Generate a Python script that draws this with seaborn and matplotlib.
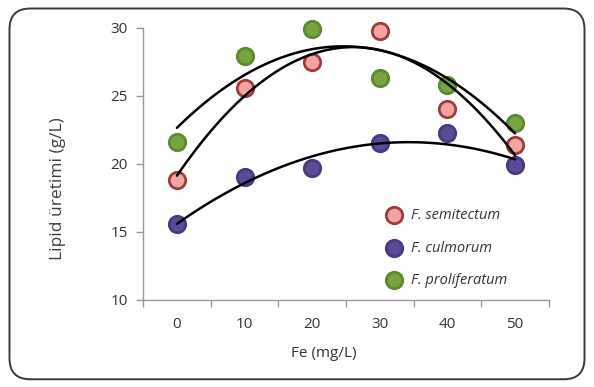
import matplotlib.pyplot as plt
import numpy as np
import pandas as pd
import seaborn as sns
from matplotlib.patches import FancyBboxPatch

fe = [0, 10, 20, 30, 40, 50]
semitectum = [18.8, 25.6, 27.5, 29.8, 24.0, 21.4]
culmorum = [15.6, 19.0, 19.7, 21.5, 22.3, 19.9]
proliferatum = [21.6, 27.9, 29.9, 26.3, 25.8, 23.0]

series = [
    ("F. semitectum", semitectum, "#F2A5A0", "#9C3D3B"),
    ("F. culmorum", culmorum, "#5A4A98", "#473a80"),
    ("F. proliferatum", proliferatum, "#78A33E", "#5C8A2E"),
]

sns.set_style("white")
plt.rcParams['font.family'] = ['Open Sans', 'DejaVu Sans']

fig = plt.figure(figsize=(5.94, 3.87), dpi=100)
ax = fig.add_axes([0.241, 0.225, 0.683, 0.703])

# rounded chart border
border = FancyBboxPatch((0.016, 0.02), 0.968, 0.958, boxstyle="round,pad=0,rounding_size=0.035",
                        transform=fig.transFigure, fill=False, edgecolor="#3a3a3a", linewidth=1.4,
                        mutation_aspect=594 / 387)
fig.patches.append(border)

for name, vals, fc, ec in series:
    df = pd.DataFrame({"fe": fe, "val": vals})
    sns.scatterplot(data=df, x="fe", y="val", ax=ax, color=fc, edgecolor=ec, linewidth=2,
                    s=140, label=name, zorder=2, clip_on=False)
    sns.regplot(data=df, x="fe", y="val", ax=ax, order=2, ci=None, scatter=False,
                line_kws={"color": "black", "lw": 1.8, "zorder": 3})

ax.set_xlim(-5, 55)
ax.set_ylim(10, 30)
ax.set_yticks([10, 15, 20, 25, 30])
ax.set_xticks(fe)
ax.set_xticks(np.arange(-5, 60, 10), minor=True)
ax.tick_params(axis="x", which="major", length=0, pad=12, labelsize=11, labelcolor="#333333")
ax.tick_params(axis="x", which="minor", length=5, width=1, color="#999999", direction="out", bottom=True)
ax.tick_params(axis="y", length=5, width=1, color="#999999", direction="out", left=True,
               pad=6, labelsize=11, labelcolor="#333333")

sns.despine(ax=ax)
for sp in ["left", "bottom"]:
    ax.spines[sp].set_color("#999999")
    ax.spines[sp].set_linewidth(1)

ax.set_xlabel("Fe (mg/L)", fontsize=11, color="#333333")
ax.xaxis.set_label_coords(0.446, -0.17)
ax.set_ylabel("Lipid üretimi (g/L)", fontsize=12.5, color="#404040")
ax.yaxis.set_label_coords(-0.19, 0.41)

ax.legend(loc="upper left", bbox_to_anchor=(0.55, 0.385), frameon=False,
          prop={"style": "italic", "size": 10.5}, labelspacing=1.2, handletextpad=0.2,
          labelcolor="#333333")

fig.savefig("out.png", dpi=100)
